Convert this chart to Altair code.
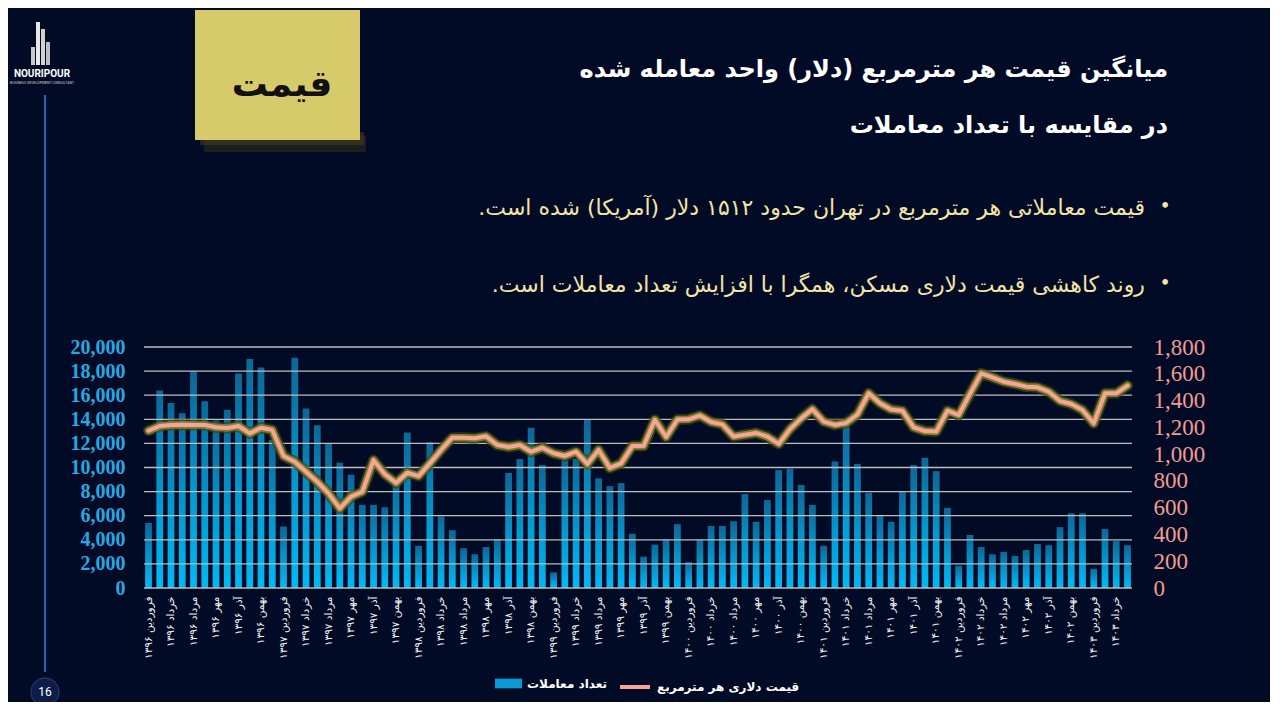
import altair as alt
import pandas as pd

# ---------------- data ----------------
month_names = ["فروردین", "اردیبهشت", "خرداد", "تیر", "مرداد", "شهریور",
               "مهر", "آبان", "آذر", "دی", "بهمن", "اسفند"]
year_names = ["۱۳۹۶", "۱۳۹۷", "۱۳۹۸", "۱۳۹۹", "۱۴۰۰", "۱۴۰۱", "۱۴۰۲", "۱۴۰۳"]
n_months = 88

transactions = [5400, 16400, 15350, 14500, 18000, 15500, 13900, 14800, 17800, 19000,
                18300, 12300, 5100, 19100, 14900, 13500, 12000, 10400, 9400, 6900,
                6900, 6700, 9200, 12900, 3500, 12100, 5950, 4800, 3300, 2800,
                3400, 4050, 9550, 10700, 13300, 10200, 1300, 10600, 10700, 14000,
                9100, 8450, 8700, 4500, 2600, 3600, 4000, 5300, 2150, 4000,
                5150, 5150, 5550, 7800, 5500, 7300, 9800, 9900, 8550, 6900,
                3500, 10500, 13800, 10300, 7900, 6050, 5500, 8050, 10200, 10800,
                9700, 6650, 1850, 4400, 3400, 2800, 3000, 2650, 3150, 3650,
                3550, 5050, 6200, 6200, 1600, 4900, 3900, 3550]

price_usd = [1175, 1210, 1217, 1220, 1217, 1217, 1200, 1195, 1210, 1155,
             1197, 1180, 986, 943, 869, 794, 707, 595, 682, 719,
             955, 850, 785, 861, 836, 931, 1031, 1123, 1122, 1118,
             1133, 1068, 1053, 1068, 1018, 1048, 1006, 986, 1018, 926,
             1031, 897, 931, 1060, 1060, 1256, 1128, 1258, 1260, 1288,
             1240, 1222, 1131, 1145, 1158, 1131, 1076, 1186, 1267, 1336,
             1243, 1218, 1233, 1296, 1455, 1380, 1334, 1324, 1200, 1172,
             1168, 1324, 1292, 1450, 1603, 1573, 1541, 1524, 1504, 1499,
             1466, 1397, 1374, 1329, 1230, 1454, 1454, 1512]

left_ticks = [0, 2000, 4000, 6000, 8000, 10000, 12000, 14000, 16000, 18000, 20000]
right_ticks = [0, 200, 400, 600, 800, 1000, 1200, 1400, 1600, 1800]

title_1 = "میانگین قیمت هر مترمربع (دلار) واحد معامله شده"
title_2 = "در مقایسه با تعداد معاملات"
bullet_1 = "قیمت معاملاتی هر مترمربع در تهران حدود ۱۵۱۲ دلار (آمریکا) شده است.\u200f"
bullet_2 = "روند کاهشی قیمت دلاری مسکن، همگرا با افزایش تعداد معاملات است.\u200f"
note_text = "قیمت"
legend_bar = "تعداد معاملات"
legend_line = "قیمت دلاری هر مترمربع"

labels = [f"{month_names[k % 12]} {year_names[k // 12]}" for k in range(n_months)]
shown_labels = labels[::2]

df = pd.DataFrame({"m": labels, "count": transactions, "price": price_usd,
                   "i": list(range(n_months)),
                   "sb": [legend_bar] * n_months, "sl": [legend_line] * n_months})

# ---------------- styles ----------------
BG = "#020b26"
FA = "DejaVu Sans"

x_enc = alt.X("m:N", sort=labels,
              scale=alt.Scale(domain=labels, paddingInner=0.4, paddingOuter=0.1),
              axis=alt.Axis(values=shown_labels, labelAngle=270, ticks=False,
                            domain=False, grid=False, labelColor="#f2f2f2",
                            labelFont=FA, labelFontSize=10.5, labelPadding=8,
                            labelOverlap=False, title=None))

base = alt.Chart(df)

bar_grad = alt.Gradient(
    gradient="linear",
    stops=[alt.GradientStop(color="#0c6796", offset=0),
           alt.GradientStop(color="#0598cf", offset=0.55),
           alt.GradientStop(color="#00b9f5", offset=1)],
    x1=0, x2=0, y1=0, y2=1)

bars = base.mark_bar(color=bar_grad).encode(
    x=x_enc,
    y=alt.Y("count:Q", scale=alt.Scale(domain=[0, 20000], nice=False),
            axis=alt.Axis(orient="left", values=left_ticks, format=",.0f", grid=False,
                          domain=False, ticks=False, labelColor="#28a8e0",
                          labelFont="Liberation Serif", labelFontWeight="bold",
                          labelFontSize=20, labelPadding=19, title=None)),
)

legend_bars = base.mark_bar(opacity=0).encode(
    x=x_enc,
    y=alt.Y("count:Q", scale=alt.Scale(domain=[0, 20000], nice=False), axis=None),
    fill=alt.Fill("sb:N", scale=alt.Scale(domain=[legend_bar], range=["#0a9bd6"]),
                  legend=alt.Legend(orient="none", legendX=351, legendY=323,
                                    title=None, symbolType="M-1,-0.36H1V0.36H-1Z",
                                    symbolSize=729, symbolOpacity=1,
                                    symbolStrokeWidth=0, labelColor="#ffffff",
                                    labelFont=FA, labelFontWeight="bold",
                                    labelFontSize=12, labelOffset=5, padding=0)),
)

grid_df = pd.DataFrame({"g": left_ticks})
grid = alt.Chart(grid_df).mark_rule(color="#bdbdbd", strokeWidth=1.3).encode(
    y=alt.Y("g:Q", scale=alt.Scale(domain=[0, 20000], nice=False), axis=None)
)

glow_outer = base.mark_line(color="#3a4216", strokeWidth=11, opacity=0.7,
                            strokeJoin="round", strokeCap="round").encode(
    x=x_enc, y=alt.Y("price:Q", scale=alt.Scale(domain=[0, 1800], nice=False), axis=None),
    order="i:Q")
glow_inner = base.mark_line(color="#84842a", strokeWidth=7.5, opacity=0.95,
                            strokeJoin="round", strokeCap="round").encode(
    x=x_enc, y=alt.Y("price:Q", scale=alt.Scale(domain=[0, 1800], nice=False), axis=None),
    order="i:Q")
line = base.mark_line(strokeWidth=4, strokeJoin="round", strokeCap="round").encode(
    x=x_enc,
    y=alt.Y("price:Q", scale=alt.Scale(domain=[0, 1800], nice=False),
            axis=alt.Axis(orient="right", values=right_ticks, format=",.0f", grid=False,
                          domain=False, ticks=False, labelColor="#f29b92",
                          labelFont="Liberation Serif", labelFontSize=23,
                          labelPadding=21, title=None)),
    stroke=alt.Stroke("sl:N", scale=alt.Scale(domain=[legend_line], range=["#f7a397"]),
                      legend=alt.Legend(orient="none", legendX=474, legendY=323,
                                        title=None, symbolType="stroke",
                                        symbolSize=900, symbolStrokeWidth=4,
                                        labelColor="#ffffff", labelFont=FA,
                                        labelFontWeight="bold", labelFontSize=12,
                                        labelOffset=5, padding=0)),
    order="i:Q",
)

# ---------------- decorations (slide furniture, pixel placed) ----------------
one = alt.Data(values=[{"k": 1}])


def txt(s, x, y, size, color, weight="bold", align="right", font=FA):
    return alt.Chart(one).mark_text(text=s, font=font, fontSize=size, color=color,
                                    fontWeight=weight, align=align,
                                    baseline="middle").encode(
        x=alt.value(x), y=alt.value(y))


def box(x1, x2, y1, y2, color, opacity=1.0):
    return alt.Chart(one).mark_rect(color=color, opacity=opacity).encode(
        x=alt.value(x1), x2=alt.value(x2), y=alt.value(y1), y2=alt.value(y2))


vline = alt.Chart(one).mark_rule(color="#1d6bb4", strokeWidth=2).encode(
    x=alt.value(-99), y=alt.value(-252), y2=alt.value(325))
page_circle = alt.Chart(one).mark_circle(color="#0d1d48", opacity=1, size=800,
                                         stroke="#24407a", strokeWidth=1).encode(
    x=alt.value(-99), y=alt.value(345))

deco = [
    box(60, 222, -212, -195, "#3b3418", 0.45),
    box(56, 220, -215, -202, "#4a4220", 0.5),
    box(51, 216, -337, -207, "#d6ca6b"),
    txt(note_text, 138, -262, 36, "#111111", align="center"),
    txt(title_1, 1024, -277, 24, "#ffffff"),
    txt(title_2, 1024, -221, 24, "#ffffff"),
    txt(bullet_1, 1001, -139, 22, "#f3e3a6", weight="normal"),
    txt(bullet_2, 1001, -62, 22, "#f3e3a6", weight="normal"),
    txt("•", 1021, -141, 16, "#f3e3a6", align="center"),
    txt("•", 1021, -64, 16, "#f3e3a6", align="center"),
    vline,
    # stylised logo buildings
    box(-108, -104, -325, -282, "#e8e8e8"),
    box(-103, -99, -318, -282, "#d0d0d0"),
    box(-98, -94, -305, -282, "#bdbdbd"),
    box(-113, -109, -300, -282, "#c8c8c8"),
    txt("NOURIPOUR", -102, -273, 10, "#ffffff", align="center", font="Roboto"),
    txt("BUSINESS DEVELOPMENT CONSULTANT", -102, -264, 3.5, "#cfcfcf",
        weight="normal", align="center", font="Roboto"),
    page_circle,
    txt("16", -99, 345, 12, "#ffffff", weight="normal", align="center", font="Roboto"),
]

chart = alt.layer(
    bars, legend_bars, grid, glow_outer, glow_inner, line, *deco
).resolve_scale(
    y="independent", fill="independent", stroke="independent"
).properties(
    width=988, height=241,
    padding={"left": 136, "top": 339, "right": 138, "bottom": 114},
    autosize=alt.AutoSizeParams(type="none"),
    background=BG,
).configure_view(strokeWidth=0)

chart.save("out.html", embed_options={"renderer": "svg", "actions": False})
